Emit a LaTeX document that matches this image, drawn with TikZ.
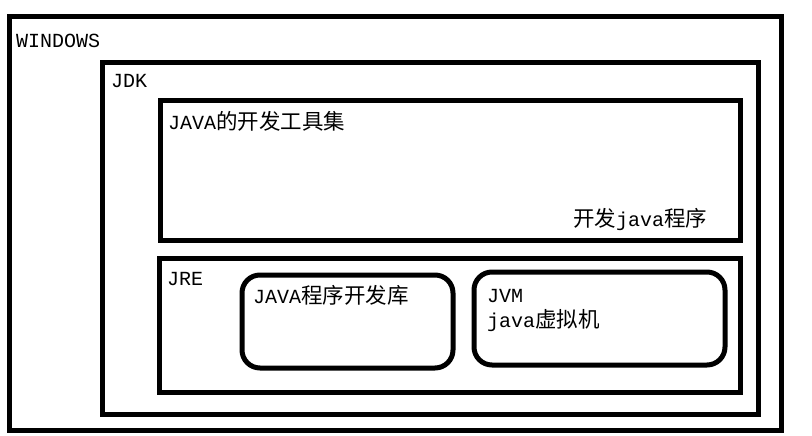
\documentclass[tikz,border=0pt]{standalone}
\usepackage{fontspec}
\setmainfont{Liberation Mono}
\newfontfamily\cjkfont{Noto Sans CJK SC}
\newcommand{\cjk}{\cjkfont\fontsize{21.5}{24}\selectfont}
\usepackage{tikz}

\tikzset{
	box/.style={line width=5pt},
	roundbox/.style={line width=5pt, rounded corners=18pt},
	lbl/.style={anchor=base west, inner sep=0pt, font=\fontsize{20}{24}\selectfont},
}

\begin{document}
\begin{tikzpicture}[x=1pt,y=-1pt]
			\useasboundingbox (0,0) rectangle (812,436);
			% nested boxes
			\draw[box] (9.5,16.5) rectangle (781,430.5);
			\draw[box] (102.5,62.5) rectangle (758.5,414);
			\draw[box] (160.5,100.5) rectangle (740.5,240.5);
			\draw[box] (159.5,258.5) rectangle (740.5,392.5);
			\draw[roundbox] (242,275) rectangle (453,368);
			\draw[roundbox] (474,272) rectangle (725,365);
			
			% labels
			\node[lbl] (windows) at (16,48) {WINDOWS};
			\node[lbl] (jdk) at (111,88) {JDK};
			\node[lbl] (tools) at (168,129) {JAVA{\cjk 的开发工具集}};
			\node[lbl] (devprog) at (573,226) {{\cjk 开发}java{\cjk 程序}};
			\node[lbl] (jre) at (167,285) {JRE};
			\node[lbl] (lib) at (253,303) {JAVA{\cjk 程序开发库}};
			\node[lbl] (jvm) at (487,302) {JVM};
			\node[lbl] (vm) at (487,327) {java{\cjk 虚拟机}};
		\end{tikzpicture}
\end{document}
